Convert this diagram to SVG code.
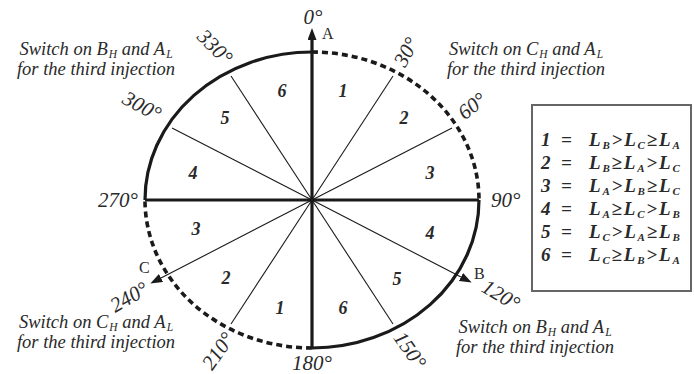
<svg xmlns="http://www.w3.org/2000/svg" width="694" height="374" viewBox="0 0 694 374">
<style>
.thick{stroke:#1a1a1a;stroke-width:3.2;fill:none}
.dash{stroke:#1a1a1a;stroke-width:3.6;fill:none;stroke-dasharray:6 4}
.thin{stroke:#1a1a1a;stroke-width:1.1;fill:none}
text{fill:#2a2a2a}
.deg{font-style:italic;font-size:21px}
.num{font-style:italic;font-weight:bold;font-size:18px;text-anchor:middle}
.lab{font-size:16px}
.note{font-style:italic;font-size:18.5px;text-anchor:middle}
.leg{font-style:italic;font-weight:bold;font-size:19px}
.ex{letter-spacing:1.8px}
.sub{font-size:11px}
.nsub{font-size:11.5px}
</style>
<defs>
<marker id="ah" markerUnits="userSpaceOnUse" markerWidth="12" markerHeight="10" refX="0" refY="4.5" orient="auto">
<path d="M0,0 L12,4.5 L0,9 z" fill="#1a1a1a"/>
</marker>
</defs>
<g id="connectors">
<path class="thick" d="M145 200 A167 148 0 0 1 312 52"/>
<path class="dash" d="M312 52 A167 148 0 0 1 479 200"/>
<path class="thick" d="M479 200 A167 148 0 0 1 312 348"/>
<path class="dash" d="M312 348 A167 148 0 0 1 145 200"/>
<line class="thick" x1="145" y1="200" x2="479" y2="200"/>
<line class="thick" x1="312" y1="348" x2="312" y2="40" marker-end="url(#ah)"/>
<line class="thin" x1="312" y1="200" x2="461" y2="277" marker-end="url(#ah)"/>
<line class="thin" x1="312" y1="200" x2="161" y2="278" marker-end="url(#ah)"/>
<line class="thin" x1="312" y1="200" x2="393" y2="76"/>
<line class="thin" x1="312" y1="200" x2="452" y2="128"/>
<line class="thin" x1="312" y1="200" x2="393" y2="324"/>
<line class="thin" x1="312" y1="200" x2="231" y2="324"/>
<line class="thin" x1="312" y1="200" x2="172" y2="128"/>
<line class="thin" x1="312" y1="200" x2="231" y2="76"/>
</g>
<g font-family="Liberation Serif, Times New Roman, serif">
<g id="axis-labels">
<text class="lab" x="322" y="39">A</text>
<text class="lab" x="474" y="279">B</text>
<text class="lab" x="139" y="273">C</text>
</g>
<g id="degrees">
<text class="deg" x="313" y="24" text-anchor="middle">0°</text>
<text class="deg" transform="translate(406,52) rotate(-62)" text-anchor="middle" dy="7">30°</text>
<text class="deg" transform="translate(472,106) rotate(-38)" text-anchor="middle" dy="7">60°</text>
<text class="deg" x="491" y="207">90°</text>
<text class="deg" transform="translate(501,295) rotate(31)" text-anchor="middle" dy="7">120°</text>
<text class="deg" transform="translate(410,350) rotate(55)" text-anchor="middle" dy="7">150°</text>
<text class="deg" x="312" y="370" text-anchor="middle">180°</text>
<text class="deg" transform="translate(218,351) rotate(-55)" text-anchor="middle" dy="7">210°</text>
<text class="deg" transform="translate(129,297) rotate(-30)" text-anchor="middle" dy="7">240°</text>
<text class="deg" x="138" y="207" text-anchor="end">270°</text>
<text class="deg" transform="translate(142,106) rotate(28)" text-anchor="middle" dy="7">300°</text>
<text class="deg" transform="translate(215,47) rotate(45)" text-anchor="middle" dy="7">330°</text>
</g>
<g id="sectors">
<text class="num" x="343" y="97">1</text>
<text class="num" x="404" y="124">2</text>
<text class="num" x="430" y="179">3</text>
<text class="num" x="430" y="239">4</text>
<text class="num" x="397" y="285">5</text>
<text class="num" x="343" y="314">6</text>
<text class="num" x="280" y="314">1</text>
<text class="num" x="226" y="284">2</text>
<text class="num" x="196" y="235">3</text>
<text class="num" x="193" y="179">4</text>
<text class="num" x="225" y="124">5</text>
<text class="num" x="282" y="97">6</text>
</g>
<g id="note-top-left">
<text class="note" x="96" y="55">Switch on B<tspan class="nsub" dx="1" dy="3">H</tspan><tspan dy="-3"> and A</tspan><tspan class="nsub" dx="1" dy="3">L</tspan></text>
<text class="note" x="96" y="75">for the third injection</text>
</g>
<g id="note-top-right">
<text class="note" x="526" y="55">Switch on C<tspan class="nsub" dx="1" dy="3">H</tspan><tspan dy="-3"> and A</tspan><tspan class="nsub" dx="1" dy="3">L</tspan></text>
<text class="note" x="526" y="75">for the third injection</text>
</g>
<g id="note-bottom-left">
<text class="note" x="96" y="328">Switch on C<tspan class="nsub" dx="1" dy="3">H</tspan><tspan dy="-3"> and A</tspan><tspan class="nsub" dx="1" dy="3">L</tspan></text>
<text class="note" x="96" y="348">for the third injection</text>
</g>
<g id="note-bottom-right">
<text class="note" x="535" y="333">Switch on B<tspan class="nsub" dx="1" dy="3">H</tspan><tspan dy="-3"> and A</tspan><tspan class="nsub" dx="1" dy="3">L</tspan></text>
<text class="note" x="535" y="353">for the third injection</text>
</g>
<g id="legend">
<rect x="532" y="105" width="159" height="186" fill="#fff" stroke="#666" stroke-width="2"/>
<text class="leg" y="146"><tspan x="541">1</tspan><tspan x="561">=</tspan><tspan class="ex" x="589">L</tspan><tspan class="sub ex" dy="3">B</tspan><tspan class="ex" dy="-3">&gt;L</tspan><tspan class="sub ex" dy="3">C</tspan><tspan class="ex" dy="-3">≥L</tspan><tspan class="sub" dy="3">A</tspan></text>
<text class="leg" y="169"><tspan x="541">2</tspan><tspan x="561">=</tspan><tspan class="ex" x="589">L</tspan><tspan class="sub ex" dy="3">B</tspan><tspan class="ex" dy="-3">≥L</tspan><tspan class="sub ex" dy="3">A</tspan><tspan class="ex" dy="-3">&gt;L</tspan><tspan class="sub" dy="3">C</tspan></text>
<text class="leg" y="192"><tspan x="541">3</tspan><tspan x="561">=</tspan><tspan class="ex" x="589">L</tspan><tspan class="sub ex" dy="3">A</tspan><tspan class="ex" dy="-3">&gt;L</tspan><tspan class="sub ex" dy="3">B</tspan><tspan class="ex" dy="-3">≥L</tspan><tspan class="sub" dy="3">C</tspan></text>
<text class="leg" y="215"><tspan x="541">4</tspan><tspan x="561">=</tspan><tspan class="ex" x="589">L</tspan><tspan class="sub ex" dy="3">A</tspan><tspan class="ex" dy="-3">≥L</tspan><tspan class="sub ex" dy="3">C</tspan><tspan class="ex" dy="-3">&gt;L</tspan><tspan class="sub" dy="3">B</tspan></text>
<text class="leg" y="238"><tspan x="541">5</tspan><tspan x="561">=</tspan><tspan class="ex" x="589">L</tspan><tspan class="sub ex" dy="3">C</tspan><tspan class="ex" dy="-3">&gt;L</tspan><tspan class="sub ex" dy="3">A</tspan><tspan class="ex" dy="-3">≥L</tspan><tspan class="sub" dy="3">B</tspan></text>
<text class="leg" y="261"><tspan x="541">6</tspan><tspan x="561">=</tspan><tspan class="ex" x="589">L</tspan><tspan class="sub ex" dy="3">C</tspan><tspan class="ex" dy="-3">≥L</tspan><tspan class="sub ex" dy="3">B</tspan><tspan class="ex" dy="-3">&gt;L</tspan><tspan class="sub" dy="3">A</tspan></text>
</g>
</g>
</svg>
